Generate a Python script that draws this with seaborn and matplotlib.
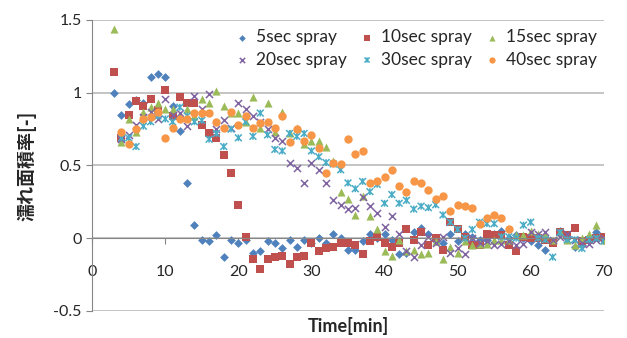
import numpy as np
import pandas as pd
import matplotlib
matplotlib.use('Agg')
import matplotlib.pyplot as plt
from matplotlib.path import Path
import seaborn as sns

# minutes
t_a = list(range(3, 71))   # 5, 10, 15 sec series
t_b = list(range(4, 71))   # 20, 30 sec series
t_c = list(range(4, 58))   # 40 sec series

spray_5 = [1.00, 0.85, 0.92, 0.95, 0.93, 1.11, 1.13, 1.11, 0.91, 0.74,
           0.38, 0.09, -0.01, -0.02, 0.02, -0.13, -0.01, -0.03, -0.01, -0.10,
           -0.09, -0.02, -0.03, -0.07, -0.01, -0.06, -0.01, -0.03, 0.00, -0.03,
           0.03, 0.00, -0.08, -0.08, -0.02, 0.03, 0.00, 0.03, -0.01, -0.11,
           -0.10, 0.04, 0.07, 0.03, -0.02, -0.03, 0.03, -0.02, 0.03, 0.01,
           -0.01, -0.01, 0.03, 0.05, 0.00, 0.02, 0.00, -0.02, -0.05, -0.08,
           -0.02, 0.05, 0.00, -0.06, -0.05, 0.00, 0.04, 0.01]
spray_10 = [1.14, 0.69, 0.85, 0.94, 0.91, 0.96, 0.88, 1.02, 0.84, 0.97,
            0.93, 0.93, 0.78, 0.72, 0.69, 0.57, 0.45, 0.23, 0.01, -0.14,
            -0.21, -0.14, -0.13, -0.12, -0.18, -0.13, -0.12, -0.03, -0.09, -0.07,
            -0.06, -0.03, -0.03, -0.05, -0.11, -0.02, 0.01, -0.03, -0.06, -0.03,
            0.06, -0.01, 0.04, -0.05, 0.00, -0.08, 0.11, 0.06, 0.01, -0.05,
            -0.05, 0.03, 0.02, 0.02, -0.05, -0.09, 0.01, 0.00, 0.00, -0.01,
            -0.03, 0.04, 0.02, 0.07, -0.02, -0.01, 0.00, 0.01]
spray_15 = [1.44, 0.66, 0.82, 0.73, 0.87, 0.90, 0.93, 0.89, 0.89, 0.85,
            0.89, 0.84, 0.96, 0.93, 1.01, 0.91, 0.86, 0.86, 0.80, 0.97,
            0.76, 0.93, 0.73, 0.87, 0.72, 0.76, 0.65, 0.67, 0.67, 0.63,
            0.53, 0.32, 0.27, 0.16, 0.29, 0.15, 0.06, -0.09, -0.12, -0.01,
            -0.09, -0.08, -0.11, -0.10, -0.02, -0.14, -0.06, -0.10, -0.02, -0.05,
            -0.04, -0.04, -0.01, -0.01, -0.01, 0.02, 0.02, 0.05, 0.03, 0.02,
            -0.01, 0.04, -0.01, -0.05, 0.00, 0.03, 0.09, -0.01]
spray_20 = [0.68, 0.71, 0.78, 0.83, 0.87, 0.82, 0.96, 0.85, 0.86, 0.77,
            0.98, 0.89, 0.99, 0.75, 0.81, 0.76, 0.93, 0.89, 0.84, 0.80,
            0.75, 0.69, 0.67, 0.52, 0.48, 0.38, 0.52, 0.47, 0.38, 0.26,
            0.23, 0.20, 0.21, 0.28, 0.22, 0.17, 0.08, 0.15, 0.03, -0.09,
            -0.13, -0.05, 0.01, -0.03, 0.01, -0.10, -0.07, -0.11, 0.00, -0.03,
            -0.02, -0.05, -0.04, -0.02, -0.05, -0.04, 0.04, 0.03, 0.04, -0.01,
            0.01, 0.03, -0.01, -0.03, -0.04, -0.01, 0.00]
spray_30 = [0.69, 0.69, 0.63, 0.77, 0.80, 0.84, 0.82, 0.80, 0.90, 0.84,
            0.80, 0.81, 0.68, 0.72, 0.63, 0.75, 0.69, 0.80, 0.70, 0.86,
            0.71, 0.61, 0.60, 0.72, 0.70, 0.72, 0.60, 0.56, 0.52, 0.51,
            0.47, 0.38, 0.34, 0.39, 0.32, 0.37, 0.24, 0.30, 0.24, 0.26,
            0.20, 0.22, 0.21, 0.23, 0.16, 0.11, 0.06, 0.00, 0.06, 0.11,
            0.10, 0.10, 0.01, 0.01, 0.00, 0.09, 0.11, 0.00, -0.01, -0.13,
            0.04, -0.01, -0.01, -0.07, -0.01, 0.00, -0.02]
spray_40 = [0.73, 0.65, 0.75, 0.82, 0.83, 0.87, 0.69, 0.76, 0.82, 0.82,
            0.86, 0.86, 0.86, 0.80, 0.76, 0.87, 0.78, 0.84, 0.76, 0.79,
            0.80, 0.76, 0.84, 0.66, 0.75, 0.67, 0.71, 0.62, 0.45, 0.52,
            0.51, 0.68, 0.58, 0.60, 0.38, 0.39, 0.42, 0.47, 0.36, 0.32,
            0.39, 0.38, 0.33, 0.27, 0.29, 0.19, 0.23, 0.22, 0.21, 0.10,
            0.14, 0.16, 0.14, 0.06]

labels = ['5sec spray', '10sec spray', '15sec spray',
          '20sec spray', '30sec spray', '40sec spray']

# excel style "star" marker: x with a vertical bar
star = Path([(-1, -1), (1, 1), (-1, 1), (1, -1), (0, -1), (0, 1)],
            [Path.MOVETO, Path.LINETO, Path.MOVETO, Path.LINETO, Path.MOVETO, Path.LINETO])

series = [
    (t_a, spray_5, 'D', '#4F81BD', 20),
    (t_a, spray_10, 's', '#C0504D', 28),
    (t_a, spray_15, '^', '#9BBB59', 34),
    (t_b, spray_20, 'x', '#8064A2', 26),
    (t_b, spray_30, star, '#4BACC6', 24),
    (t_c, spray_40, 'o', '#F79646', 36),
]

sns.set_style('white')
plt.rcParams['font.family'] = ['Lato', 'Noto Sans CJK JP', 'DejaVu Sans']

fig = plt.figure(figsize=(6.27, 3.38), dpi=100)
ax = fig.add_axes([0.147, 0.080, 0.816, 0.861])

for (tt, vals, mk, col, sz), lab in zip(series, labels):
    df = pd.DataFrame({'t': tt, 'v': vals})
    if isinstance(mk, Path):
        # path marker counts as filled -> colour the edges, no face
        sns.scatterplot(data=df, x='t', y='v', ax=ax, marker=mk, color=col,
                        edgecolor=col, facecolor='none', s=sz, linewidth=1.1,
                        label=lab)
    elif mk == 'x':
        sns.scatterplot(data=df, x='t', y='v', ax=ax, marker=mk, color=col,
                        s=sz, linewidth=1.1, label=lab)
    else:
        sns.scatterplot(data=df, x='t', y='v', ax=ax, marker=mk, color=col,
                        edgecolor=col, s=sz, linewidth=0, label=lab)

ax.set_xlim(0, 70)
ax.set_ylim(-0.5, 1.5)
ax.set_xticks(np.arange(0, 71, 10))
ax.set_yticks([-0.5, 0, 0.5, 1, 1.5])
ax.set_yticklabels(['-0.5', '0', '0.5', '1', '1.5'])

ax.yaxis.grid(True, color='#BFBFBF', linewidth=1.3)
ax.xaxis.grid(False)
ax.set_axisbelow(True)

for side in ['top', 'right']:
    ax.spines[side].set_visible(False)
ax.spines['left'].set_color('#868686')
ax.spines['bottom'].set_color('#868686')
ax.spines['bottom'].set_position(('data', 0))

ax.tick_params(axis='x', direction='out', length=4, color='#868686',
               labelsize=11.5, pad=15, bottom=True)
ax.tick_params(axis='y', direction='out', length=4, color='#868686',
               labelsize=11.5, left=True)

ax.set_xlabel('Time[min]', fontsize=13, fontweight='bold')
ax.set_ylabel('濡れ面積率[-]', fontsize=13, fontweight='bold',
              family=['Noto Sans CJK JP', 'DejaVu Sans'])
ax.xaxis.set_label_coords(0.5, -0.022)
ax.yaxis.set_label_coords(-0.108, 0.5)

# legend is filled column by column, so reorder to read row-wise
handles, labs = ax.get_legend_handles_labels()
order = [0, 3, 1, 4, 2, 5]
ax.legend([handles[i] for i in order], [labs[i] for i in order],
          ncol=3, loc='upper right', bbox_to_anchor=(1.005, 1.0), frameon=False,
          fontsize=12.5, markerscale=0.75, handlelength=0.9, handletextpad=0.35,
          columnspacing=0.7, labelspacing=0.35, borderaxespad=0.15)

plt.savefig('out.png', dpi=100)
plt.close()
